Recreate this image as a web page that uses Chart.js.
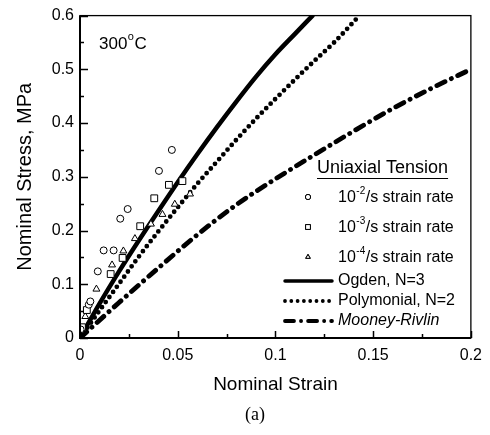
<!DOCTYPE html>
<html>
<head>
<meta charset="utf-8">
<script src="https://cdn.jsdelivr.net/npm/chart.js@4.4.1/dist/chart.umd.min.js"></script>
<style>
  html, body { margin: 0; padding: 0; background: #fff; }
  #wrap { width: 490px; height: 435px; }
</style>
</head>
<body>
<div id="wrap"><canvas id="myChart" width="490" height="435"></canvas></div>
<script>
// measured points, uniaxial tension at 300 C
const rate2Strain = [0.0003, 0.0045, 0.0053, 0.0091, 0.0121, 0.0172, 0.0206, 0.0244, 0.0404, 0.047];
const rate2Stress = [0.016, 0.062, 0.068, 0.124, 0.163, 0.163, 0.222, 0.240, 0.311, 0.350];

const rate3Strain = [0.001, 0.0035, 0.0157, 0.0218, 0.0308, 0.038, 0.0455, 0.0524];
const rate3Stress = [0.020, 0.052, 0.119, 0.149, 0.208, 0.260, 0.285, 0.292];

const rate4Strain = [0.0027, 0.0084, 0.0164, 0.0222, 0.0281, 0.0363, 0.0422, 0.0485, 0.0563];
const rate4Stress = [0.040, 0.091, 0.136, 0.162, 0.185, 0.212, 0.230, 0.249, 0.268];

// model fits
const ogdenStrain = [0, 0.01, 0.02, 0.03, 0.04, 0.05, 0.06, 0.07, 0.08, 0.09, 0.1, 0.11, 0.119];
const ogdenStress = [0, 0.064, 0.124, 0.181, 0.236, 0.29, 0.342, 0.392, 0.44, 0.486, 0.528, 0.566, 0.6];

const polyStrain = [0, 0.01, 0.02, 0.03, 0.04, 0.05, 0.06, 0.07, 0.08, 0.09, 0.1, 0.11, 0.12, 0.13, 0.143];
const polyStress = [0, 0.051, 0.101, 0.151, 0.198, 0.243, 0.287, 0.328, 0.369, 0.408, 0.445, 0.481, 0.516, 0.55, 0.6];

const mooneyStrain = [0, 0.02, 0.04, 0.06, 0.08, 0.1, 0.12, 0.14, 0.16, 0.18, 0.2];
const mooneyStress = [0, 0.066, 0.13, 0.192, 0.248, 0.296, 0.341, 0.385, 0.427, 0.465, 0.5];

const xTicks = [0, 0.05, 0.1, 0.15, 0.2];
const yTicks = [0, 0.1, 0.2, 0.3, 0.4, 0.5, 0.6];

const SANS = '"Liberation Sans", Arial, sans-serif';

function pts(xs, ys) {
  return xs.map((x, i) => ({ x: x, y: ys[i] }));
}

const markerSet = (label, xs, ys, style, r) => ({
  label: label,
  data: pts(xs, ys),
  showLine: false,
  pointStyle: style,
  pointRadius: r,
  pointBorderWidth: 1,
  pointBorderColor: '#000',
  pointBackgroundColor: '#fff',
  order: 0
});

const curveSet = (label, xs, ys, width, dash) => ({
  label: label,
  data: pts(xs, ys),
  showLine: true,
  pointRadius: 0,
  borderColor: '#000',
  borderWidth: width,
  borderDash: dash,
  borderCapStyle: 'round',
  borderJoinStyle: 'round',
  cubicInterpolationMode: 'monotone',
  order: 1
});

const datasets = [
  markerSet('rate2', rate2Strain, rate2Stress, 'circle', 3.5),
  markerSet('rate3', rate3Strain, rate3Stress, 'rect', 4.8),
  markerSet('rate4', rate4Strain, rate4Stress, 'triangle', 4),
  curveSet('Ogden, N=3', ogdenStrain, ogdenStress, 4.5, []),
  curveSet('Polymonial, N=2', polyStrain, polyStress, 4.8, [0, 6.3]),
  curveSet('Mooney-Rivlin', mooneyStrain, mooneyStress, 4.8, [9, 7, 0.1, 7])
];

// frame, inward ticks, titles and the legend block
const decorations = {
  id: 'decorations',
  afterDraw(chart) {
    const ctx = chart.ctx;
    const a = chart.chartArea;
    const xs = chart.scales.x, ys = chart.scales.y;
    ctx.save();
    ctx.strokeStyle = '#000';
    ctx.fillStyle = '#000';

    ctx.lineWidth = 1.3;
    ctx.strokeRect(a.left, a.top, a.right - a.left, a.bottom - a.top);
    ctx.lineWidth = 2;
    ctx.beginPath();
    ctx.moveTo(a.left, a.top);
    ctx.lineTo(a.left, a.bottom);
    ctx.lineTo(a.right, a.bottom);
    ctx.stroke();

    ctx.lineWidth = 1.5;
    ctx.beginPath();
    for (let v = 0; v <= 0.2001; v += 0.025) {
      const px = Math.round(xs.getPixelForValue(v)) + 0.5;
      const major = Math.abs(v / 0.05 - Math.round(v / 0.05)) < 1e-6;
      ctx.moveTo(px, a.bottom);
      ctx.lineTo(px, a.bottom - (major ? 7 : 4));
    }
    for (let v = 0; v <= 0.6001; v += 0.05) {
      const py = Math.round(ys.getPixelForValue(v)) + 0.5;
      const major = Math.abs(v / 0.1 - Math.round(v / 0.1)) < 1e-6;
      ctx.moveTo(a.left, py);
      ctx.lineTo(a.left + (major ? 8 : 4), py);
    }
    ctx.stroke();

    // axis titles
    ctx.font = '19px ' + SANS;
    ctx.textAlign = 'center';
    ctx.textBaseline = 'middle';
    ctx.fillText('Nominal Strain', (a.left + a.right) / 2, 385);
    ctx.save();
    ctx.translate(25, (a.top + a.bottom) / 2);
    ctx.rotate(-Math.PI / 2);
    ctx.font = '20px ' + SANS;
    ctx.fillText('Nominal Stress, MPa', 0, 0);
    ctx.restore();
    ctx.font = '18px "Liberation Serif", "Times New Roman", serif';
    ctx.fillText('(a)', 255, 415);

    // temperature tag
    ctx.textAlign = 'left';
    ctx.font = '17px ' + SANS;
    let tx = 99;
    ctx.fillText('300', tx, 44);
    tx += ctx.measureText('300').width;
    ctx.font = '11px ' + SANS;
    ctx.fillText('o', tx + 0.5, 37);
    tx += ctx.measureText('o').width + 1;
    ctx.font = '17px ' + SANS;
    ctx.fillText('C', tx, 44);

    // legend
    ctx.font = '18px ' + SANS;
    ctx.fillText('Uniaxial Tension', 317, 168);
    const tw = ctx.measureText('Uniaxial Tension').width;
    ctx.lineWidth = 1.2;
    ctx.beginPath();
    ctx.moveTo(317, 178.5);
    ctx.lineTo(317 + tw, 178.5);
    ctx.stroke();

    const rows = [
      { exp: '-2', y: 198, ds: 0 },
      { exp: '-3', y: 228, ds: 1 },
      { exp: '-4', y: 258, ds: 2 }
    ];
    rows.forEach(r => {
      const d = chart.data.datasets[r.ds];
      ctx.lineWidth = 1;
      Chart.helpers.drawPoint(ctx, {
        pointStyle: d.pointStyle,
        radius: d.pointStyle === 'rect' ? 3.4 : 2.6,
        borderWidth: 1
      }, 308, r.y - 1);
      ctx.fillStyle = '#fff';
      ctx.fill();
      ctx.fillStyle = '#000';
      ctx.stroke();
      let x = 338;
      ctx.font = '16px ' + SANS;
      ctx.fillText('10', x, r.y);
      x += ctx.measureText('10').width;
      ctx.font = '10px ' + SANS;
      ctx.fillText(r.exp, x + 0.5, r.y - 7);
      x += ctx.measureText(r.exp).width + 1;
      ctx.font = '16px ' + SANS;
      ctx.fillText('/s strain rate', x, r.y);
    });

    const lines = [
      { ds: 3, y: 281, italic: false },
      { ds: 4, y: 301, italic: false },
      { ds: 5, y: 321, italic: true }
    ];
    lines.forEach(l => {
      const d = chart.data.datasets[l.ds];
      ctx.save();
      ctx.lineWidth = d.borderWidth - 1;
      ctx.lineCap = 'round';
      ctx.setLineDash(d.borderDash);
      ctx.beginPath();
      ctx.moveTo(285, l.y);
      ctx.lineTo(332, l.y);
      ctx.stroke();
      ctx.restore();
      ctx.font = (l.italic ? 'italic ' : '') + '16px ' + SANS;
      ctx.fillText(d.label, 338, l.y);
    });

    ctx.restore();
  }
};

const ctx = document.getElementById('myChart');

new Chart(ctx, {
  type: 'scatter',
  data: { datasets: datasets },
  plugins: [decorations],
  options: {
    responsive: false,
    animation: false,
    layout: { padding: { left: 0, top: 15, right: 18, bottom: 0 } },
    plugins: {
      legend: { display: false },
      tooltip: { enabled: false }
    },
    scales: {
      x: {
        type: 'linear',
        min: 0,
        max: 0.2,
        afterFit: s => { s.height = 97; },
        afterBuildTicks: s => { s.ticks = xTicks.map(v => ({ value: v })); },
        grid: { display: false, drawTicks: false },
        border: { display: false },
        ticks: {
          padding: 8,
          color: '#000',
          font: { family: SANS, size: 16 },
          callback: v => String(+v.toFixed(3))
        }
      },
      y: {
        type: 'linear',
        min: 0,
        max: 0.6,
        afterFit: s => { s.width = 80; },
        afterBuildTicks: s => { s.ticks = yTicks.map(v => ({ value: v })); },
        grid: { display: false, drawTicks: false },
        border: { display: false },
        ticks: {
          padding: 6,
          color: '#000',
          font: { family: SANS, size: 16 },
          callback: v => String(+v.toFixed(3))
        }
      }
    }
  }
});
</script>
</body>
</html>
